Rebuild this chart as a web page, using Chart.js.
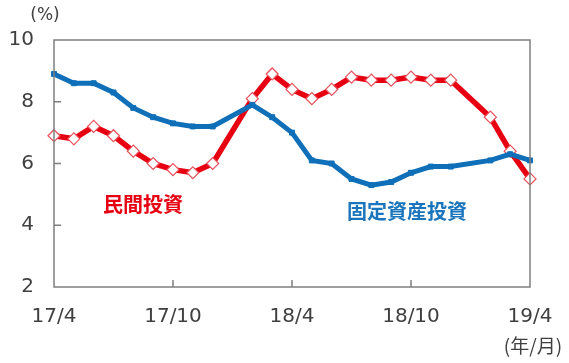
<!DOCTYPE html>
<html>
<head>
<meta charset="utf-8">
<script src="https://cdn.jsdelivr.net/npm/chart.js@4"></script>
<style>
  body { margin: 0; background: #fff; }
  #wrap { width: 569px; height: 363px; }
</style>
</head>
<body>
<div id="wrap"><canvas id="myChart"></canvas></div>
<script>
// month labels 17/4 .. 19/4 (January has no point: Jan-Feb are combined)
const months = ['17/4', '17/5', '17/6', '17/7', '17/8', '17/9', '17/10', '17/11', '17/12',
    '18/1', '18/2', '18/3', '18/4', '18/5', '18/6', '18/7', '18/8', '18/9', '18/10', '18/11', '18/12',
    '19/1', '19/2', '19/3', '19/4'];

const privateInv = [6.9, 6.8, 7.2, 6.9, 6.4, 6.0, 5.8, 5.7, 6.0,
    null, 8.1, 8.9, 8.4, 8.1, 8.4, 8.8, 8.7, 8.7, 8.8, 8.7, 8.7,
    null, 7.5, 6.4, 5.5];

const fixedInv = [8.9, 8.6, 8.6, 8.3, 7.8, 7.5, 7.3, 7.2, 7.2,
    null, 7.9, 7.5, 7.0, 6.1, 6.0, 5.5, 5.3, 5.4, 5.7, 5.9, 5.9,
    null, 6.1, 6.3, 6.1];

const shownTicks = ['17/4', '17/10', '18/4', '18/10', '19/4'];
const yTicks = [2, 4, 6, 8, 10];

const numFont = "'DejaVu Sans', sans-serif";
const jpFont = "'Noto Sans CJK JP', sans-serif";

// frame, inward tick marks and text labels
const extras = {
    id: 'extras',
    afterDraw(chart) {
        const c = chart.ctx;
        const a = chart.chartArea;
        const x = chart.scales.x;
        const y = chart.scales.y;
        c.save();
        c.strokeStyle = '#7f7f7f';
        c.lineWidth = 1.5;
        c.strokeRect(a.left, a.top, a.right - a.left, a.bottom - a.top);
        c.beginPath();
        ['17/10', '18/4', '18/10'].forEach(m => {
            const px = x.getPixelForValue(months.indexOf(m));
            c.moveTo(px, a.bottom);
            c.lineTo(px, a.bottom - 7);
        });
        [4, 6, 8].forEach(v => {
            const py = y.getPixelForValue(v);
            c.moveTo(a.left, py);
            c.lineTo(a.left + 7, py);
        });
        c.stroke();

        c.fillStyle = '#404040';
        c.textAlign = 'center';
        c.textBaseline = 'middle';
        c.font = '17px ' + numFont;
        c.fillText('(%)', 45, 16);
        c.font = '19px ' + jpFont;
        c.fillText('(年/月)', 533, 346);

        c.font = 'bold 20px ' + jpFont;
        c.fillStyle = '#e60012';
        c.fillText('民間投資', 143, 204);
        c.fillStyle = '#1a75bc';
        c.fillText('固定資産投資', 407, 211);
        c.restore();
    }
};

new Chart(document.getElementById('myChart'), {
    type: 'line',
    data: {
        labels: months,
        datasets: [{
            label: '固定資産投資',
            data: fixedInv,
            borderColor: '#0f6fb8',
            backgroundColor: '#0f6fb8',
            borderWidth: 5,
            pointStyle: 'rect',
            pointRadius: 3.5,
            pointBorderWidth: 1,
            spanGaps: true,
            tension: 0
        }, {
            label: '民間投資',
            data: privateInv,
            borderColor: '#e60012',
            backgroundColor: '#e60012',
            borderWidth: 5.5,
            pointStyle: 'rectRot',
            pointRadius: 6,
            pointBackgroundColor: '#ffffff',
            pointBorderColor: '#e8505a',
            pointBorderWidth: 1.2,
            spanGaps: true,
            tension: 0
        }]
    },
    options: {
        responsive: true,
        maintainAspectRatio: false,
        animation: false,
        clip: false,
        layout: {
            padding: { top: 40, right: 39, left: 0, bottom: 0 }
        },
        plugins: {
            legend: { display: false },
            tooltip: { enabled: false }
        },
        scales: {
            x: {
                offset: false,
                grid: { display: false },
                border: { display: false },
                ticks: {
                    autoSkip: false,
                    maxRotation: 0,
                    padding: 10,
                    color: '#404040',
                    font: { family: numFont, size: 20 },
                    callback: function (value) {
                        const m = months[value];
                        return shownTicks.includes(m) ? m : '';
                    }
                },
                afterFit(scale) { scale.height = 76; }
            },
            y: {
                min: 2,
                max: 10,
                grid: { display: false },
                border: { display: false },
                afterBuildTicks(scale) {
                    scale.ticks = yTicks.map(v => ({ value: v }));
                },
                ticks: {
                    padding: 12,
                    color: '#404040',
                    font: { family: numFont, size: 20 }
                },
                afterFit(scale) { scale.width = 54; }
            }
        }
    },
    plugins: [extras]
});
</script>
</body>
</html>
